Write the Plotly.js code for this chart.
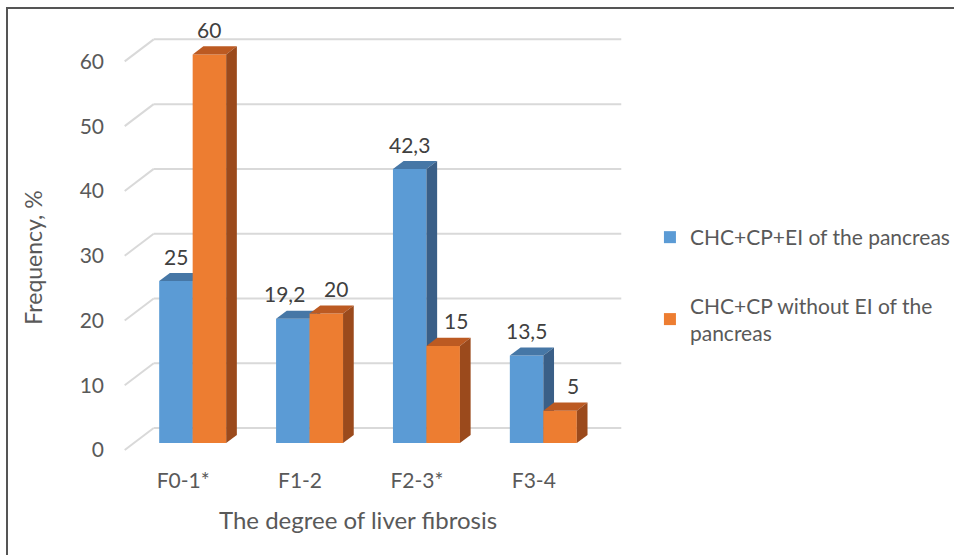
<!DOCTYPE html>
<html>
<head>
<meta charset="utf-8">
<script src="https://cdn.plot.ly/plotly-3.0.1.min.js"></script>
<style>
  html, body { margin: 0; padding: 0; background: #fff; }
  #wrap { position: relative; width: 954px; height: 555px; }
  #chart { width: 954px; height: 555px; }
  #frame { position: absolute; left: 6px; top: 7px; width: 948px; height: 548px;
           border-left: 2px solid #555; border-top: 2px solid #555; pointer-events: none; }
</style>
</head>
<body>
<div id="wrap"><div id="chart"></div><div id="frame"></div></div>
<script>
// ---- data ----
const categories = ['F0-1*', 'F1-2', 'F2-3*', 'F3-4'];
const seriesA = [25, 19.2, 42.3, 13.5];
const seriesB = [60, 20, 15, 5];
const labelsA = ['25', '19,2', '42,3', '13,5'];
const labelsB = ['60', '20', '15', '5'];
const nameA = 'CHC+CP+EI of the pancreas';
const nameB = 'CHC+CP without EI of the<br>pancreas';
const yTicks = [0, 10, 20, 30, 40, 50, 60];
const yTickText = ['0', '10', '20', '30', '40', '50', '60'];
const xTitle = 'The degree of liver fibrosis';
const yTitle = 'Frequency, %';

// ---- styling / 3D geometry (axis units) ----
const W = 0.2865;   // bar width
const DX = 0.0915;  // bar depth, x
const DY = 1.24;    // bar depth, y
const BX = 0.1667, BY = 2.32;   // back wall offset
const FX = -0.0815, FY = -1.08; // front plane offset
const labelShiftA = [0, -8, 0, 0];
const labelShiftB = [0, 10, 13, 13];
const colA = {front: '#5B9BD5', top: '#4677A6', side: '#3A5F87'};
const colB = {front: '#ED7D31', top: '#BC5A22', side: '#9B4A1C'};
const FONT = 'Lato, "Open Sans", sans-serif';
const XR = [-0.75, 3.75], YR = [-2, 65];

const idx = categories.map((c, i) => i);
const traces = [];

function addSeries(vals, name, col, offset, xa, ya, group) {
  traces.push({
    type: 'bar', x: idx, y: vals, name: name, width: idx.map(() => W),
    offset: idx.map(() => offset), marker: {color: col.front, line: {width: 0}},
    xaxis: xa, yaxis: ya, legendgroup: group, hoverinfo: 'skip'
  });
  vals.forEach((v, i) => {
    const l = i + offset, r = l + W;
    traces.push({
      type: 'scatter', mode: 'lines', fill: 'toself', fillcolor: col.top,
      line: {width: 0, color: col.top}, showlegend: false, hoverinfo: 'skip',
      x: [l, r, r + DX, l + DX, l], y: [v, v, v + DY, v + DY, v], xaxis: xa, yaxis: ya
    });
    traces.push({
      type: 'scatter', mode: 'lines', fill: 'toself', fillcolor: col.side,
      line: {width: 0, color: col.side}, showlegend: false, hoverinfo: 'skip',
      x: [r, r + DX, r + DX, r, r], y: [0, DY, v + DY, v, 0], xaxis: xa, yaxis: ya
    });
  });
}
addSeries(seriesA, nameA, colA, -W, 'x', 'y', 'a');
addSeries(seriesB, nameB, colB, 0, 'x2', 'y2', 'b');

const shapes = [];
yTicks.forEach(t => {
  shapes.push({type: 'line', layer: 'below', xref: 'x', yref: 'y',
    x0: -0.5 + BX, x1: categories.length - 0.5 + BX, y0: t + BY, y1: t + BY,
    line: {color: '#D9D9D9', width: 2}});
  shapes.push({type: 'line', layer: 'below', xref: 'x', yref: 'y',
    x0: -0.5 + FX, x1: -0.5 + BX, y0: t + FY, y1: t + BY,
    line: {color: '#D9D9D9', width: 2}});
});

const annotations = [];
seriesA.forEach((v, i) => annotations.push({xref: 'x', yref: 'y', x: i - W / 2, y: v,
  text: labelsA[i], showarrow: false, yshift: 25, xshift: labelShiftA[i],
  xanchor: 'center', yanchor: 'middle',
  font: {family: FONT, size: 21, color: '#404040'}}));
seriesB.forEach((v, i) => annotations.push({xref: 'x', yref: 'y', x: i + W / 2, y: v,
  text: labelsB[i], showarrow: false, yshift: 25, xshift: labelShiftB[i],
  xanchor: 'center', yanchor: 'middle',
  font: {family: FONT, size: 21, color: '#404040'}}));

const L = 104.55, R = 322.95, T = 22.15, B = 99.36;
const pw = 954 - L - R, ph = 555 - T - B;
annotations.push({xref: 'paper', yref: 'paper', x: (358 - L) / pw, y: (555 - B - 519) / ph,
  xanchor: 'center', yanchor: 'middle',
  text: xTitle, showarrow: false, font: {family: FONT, size: 24, color: '#595959'}});
annotations.push({xref: 'paper', yref: 'paper', x: (33 - L) / pw, y: (555 - B - 258) / ph,
  xanchor: 'center', yanchor: 'middle',
  text: yTitle, showarrow: false, textangle: -90, font: {family: FONT, size: 23, color: '#595959'}});

const layout = {
  width: 954, height: 555,
  margin: {l: L, r: R, t: T, b: B, pad: 0, autoexpand: false},
  paper_bgcolor: '#fff', plot_bgcolor: 'rgba(0,0,0,0)',
  showlegend: true,
  legend: {x: 1.036, xanchor: 'left', y: 0.394, yanchor: 'middle', traceorder: 'grouped',
    tracegroupgap: 38, font: {family: FONT, size: 21, color: '#595959'}, bgcolor: 'rgba(0,0,0,0)'},
  xaxis: {range: XR, showgrid: false, zeroline: false, showline: false, ticks: '',
    tickvals: idx.map(i => i + FX), ticktext: categories, ticklabelstandoff: 10,
    tickfont: {family: FONT, size: 21, color: '#595959'}, fixedrange: true, automargin: false},
  yaxis: {range: YR, showgrid: false, zeroline: false, showline: false, ticks: '',
    tickvals: yTicks.map(t => t + FY), ticktext: yTickText,
    tickfont: {family: FONT, size: 21, color: '#595959'}, fixedrange: true, automargin: false},
  xaxis2: {range: XR, overlaying: 'x', visible: false, fixedrange: true},
  yaxis2: {range: YR, overlaying: 'y', visible: false, fixedrange: true},
  shapes: shapes, annotations: annotations
};

Plotly.newPlot('chart', traces, layout, {displayModeBar: false, staticPlot: true});
</script>
</body>
</html>
